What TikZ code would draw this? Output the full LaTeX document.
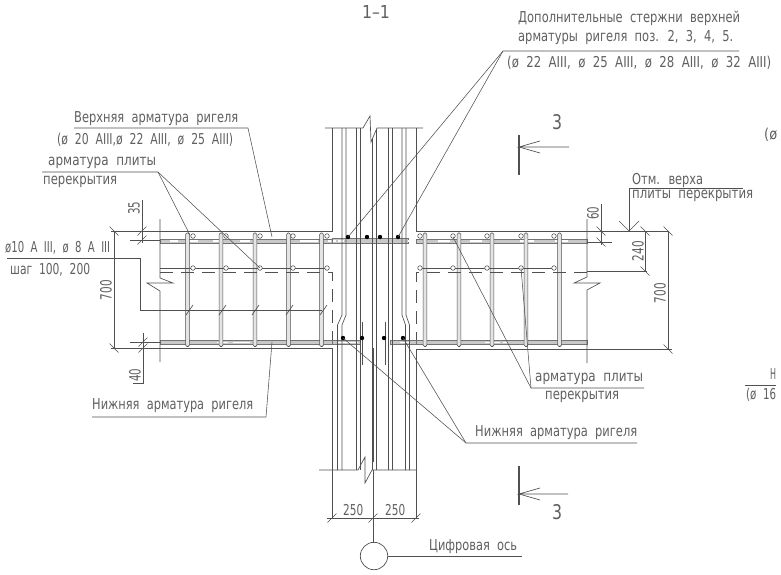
\documentclass[tikz,border=0pt]{standalone}
\usepackage{fontspec}
\usepackage{graphicx}
\setmainfont{DejaVu Sans}[WordSpace=2]
\definecolor{ink}{HTML}{505050}
\definecolor{txt}{HTML}{606060}
\definecolor{bar}{HTML}{C8C8C8}
\newcommand{\fitlabel}[5]{% name, x0, x1, y, text
  \pgfmathsetmacro{\wdpt}{#3-#2}
  \node[lbl] (#1) at (#2,#4) {\resizebox{\wdpt pt}{\height}{#5}};}
\newcommand{\vlabel}[5]{\node[lbl,anchor=center,rotate=90] (#1) at (#2,#3) {\resizebox{#5 pt}{11.5pt}{#4}};}
\newcommand{\tickbs}[2]{\draw[line] (#1-4.5,#2-4.5) -- (#1+4.5,#2+4.5);}
\newcommand{\tickfs}[2]{\draw[line] (#1-4.5,#2+4.5) -- (#1+4.5,#2-4.5);}
\tikzset{
  x=1pt,y=-1pt,
  line/.style={draw=ink,line width=0.65pt},
  thick line/.style={draw=ink,line width=1.3pt},
  leader/.style={draw=ink,line width=0.55pt},
  lbl/.style={anchor=west,inner sep=0pt,text=txt,font=\fontsize{15}{16}\selectfont},
  stirrup/.style={draw=ink,fill=bar!50,line width=0.55pt,rounded corners=1.2pt},
  ring/.style={draw=ink,fill=white,line width=0.55pt},
  dot/.style={fill=black},
  rebar/.style={draw=ink!80,fill=bar,line width=0.4pt},
}
\begin{document}
\begin{tikzpicture}
\useasboundingbox (0,0) rectangle (781,574);
\fill[white] (0,0) rectangle (781,574);

% reinforcement strips of the beam
\foreach \xa/\xb in {160/332,416/587}{
  \path[rebar] (\xa,239) rectangle (\xb,243);
  \path[rebar] (\xa,340) rectangle (\xb,344.5);
}
\path[rebar] (332,238.5) rectangle (408,243);
\path[rebar] (332,340) rectangle (360,344.5);
\path[rebar] (390,340) rectangle (416,344.5);
\foreach \xa/\xb in {170/178,186/198,213/222,240/250,300/318,328/331,333/336,338/344,408/416,438/450,470/482,520/534,555/568}{
  \draw[white,line width=1.2pt] (\xa,241) -- (\xb,241);}
\foreach \xa/\xb in {217/228,233/250,338/358,400/410,485/500,503/508}{
  \draw[white,line width=1.2pt] (\xa,342.2) -- (\xb,342.2);}

% stirrups
\foreach \x in {187.5,221,255,288.5,321.5,425,459,492,526,559.5}{
  \draw[stirrup] (\x-1.8,233) rectangle (\x+1.8,346.5);
}

% beam outline and slab lines
\draw[line] (111,231) -- (332,231) -- (332,128);
\draw[line] (325,128) -- (363,128) -- (370,116) -- (371,142) -- (377,128) -- (423,128);
\draw[line] (416,128) -- (416,231) -- (668,231);
\draw[line] (111,348) -- (332,348) -- (332,470);
\draw[line] (416,470) -- (416,349) -- (672,349);
\draw[line] (319,470) -- (358,470) -- (365,457) -- (365,483) -- (372,470) -- (417,470);
\draw[line] (160,219) -- (160,278) -- (173,283) -- (147,283) -- (160,291) -- (160,362);
\draw[line] (587,219) -- (587,277) -- (574,283) -- (600,283) -- (587,290) -- (587,363);

% mid-height bars
\draw[line] (160,268) -- (329,268);
\draw[line] (418,268) -- (556,268);
\draw[line,dash pattern=on 13pt off 8pt] (160,272) -- (332,272) -- (332,340);
\draw[line,dash pattern=on 13pt off 8pt] (587,272) -- (416,272) -- (416,340);

% column bars
\draw[line] (342,128) -- (342,315) -- (337.5,325) -- (337.5,470);
\draw[line] (346,128) -- (346,315) -- (342,325) -- (342,470);
\draw[line] (402,128) -- (402,315) -- (405.5,325) -- (405.5,470);
\draw[line] (406,128) -- (406,315) -- (409.5,325) -- (409.5,470);
\foreach \x in {356,360,388,392}{\draw[line] (\x,128) -- (\x,470);}
\draw[line] (372,138) -- (372,470);
\draw[line] (376,129) -- (376,470);
\draw[line] (362,322) -- (362,365);
\draw[line] (385,322) -- (385,365);
\draw[line] (373.5,348) -- (373.5,462);

% rings
\foreach \x in {193,226,260,293,327,420,453,487,521,554}{
  \draw[ring] (\x,236) circle (2.3);
  \draw[ring] (\x,268) circle (2.3);
}
% solid bars
\foreach \x in {348,367,380,398}{\fill[dot] (\x,237) circle (2.2);}
\foreach \x in {343,362,384,403}{\fill[dot] (\x,338) circle (2.2);}

% stirrup pitch leader
\draw[line] (7,258) -- (140,258) -- (140,310) -- (322,310);
\foreach \x in {188,221,254,288,322}{\draw[line] (\x-2,315) -- (\x+5,305);}

% left dimensions
\draw[line] (114,231) -- (114,348);
\tickbs{114}{231}\tickbs{114}{348}
\draw[line] (142,200) -- (142,243);
\draw[line] (130,240) -- (160,240);
\tickfs{142}{231}\tickfs{142}{240}
\draw[line] (143,333) -- (143,383) -- (133,383);
\draw[line] (130,342) -- (160,342);
\tickfs{143}{342}\tickfs{143}{348}
\vlabel{d700l}{106}{290}{700}{20}
\vlabel{d35}{134}{208}{35}{13}
\vlabel{d40}{135}{375}{40}{13}

% right dimensions
\draw[line] (601,204) -- (601,245);
\draw[line] (587,242) -- (612,242);
\tickbs{601}{231}\tickbs{601}{242}
\draw[line] (587,271) -- (647,271);
\draw[line] (645,231) -- (645,271);
\tickbs{645}{231}\tickbs{645}{271}
\draw[line] (668,231) -- (668,349);
\tickbs{668}{231}\tickbs{668}{349}
\vlabel{d60}{593}{213}{60}{13}
\vlabel{d240}{638}{251}{240}{20}
\vlabel{d700r}{660}{293}{700}{20}

% level mark
\coordinate (lvl) at (629,231);
\draw[line] (743,188) -- (629,188) -- (lvl);
\draw[line] (619,221) -- (lvl) -- (639,221);

% bottom dimensions and axis
\draw[line] (327,518) -- (419,518);
\draw[line] (332,470) -- (332,518);
\draw[line] (416,470) -- (416,518);
\draw[line] (373,470) -- (373,543);
\tickfs{332}{518}\tickfs{373}{518}\tickfs{416}{518}
\node[draw=ink,line width=0.7pt,circle,minimum size=27.4pt,inner sep=0pt] (axis) at (374,556) {};
\coordinate (axisend) at (522,556);
\draw[line] (axis.east) -- (axisend);

% section marks
\draw[thick line] (519,135) -- (519,175);
\draw[line] (569,147) -- (519,147) -- (540,141);
\draw[line] (519,147) -- (540,153);
\draw[thick line] (519,466) -- (519,505);
\draw[line] (568,494) -- (519,494) -- (540,488);
\draw[line] (519,494) -- (540,500);

% leaders
\coordinate (addA) at (503,51);
\draw[leader] (739,51) -- (addA) -- (348,237);
\draw[leader] (addA) -- (398,237);
\coordinate (topR) at (248,128);
\draw[leader] (74,128) -- (topR) -- (272,237);
\coordinate (slabL) at (158,172);
\draw[leader] (42,172) -- (slabL) -- (190,235);
\draw[leader] (slabL) -- (260,268);
\coordinate (slabR) at (531,388);
\draw[leader] (644,388) -- (slabR) -- (453,237);
\draw[leader] (slabR) -- (521,268);
\coordinate (botL) at (266,417);
\draw[leader] (92,417) -- (botL) -- (272,342);
\coordinate (botR) at (466,443);
\draw[leader] (637,443) -- (botR) -- (343,338);
\draw[leader] (botR) -- (403,338);

% texts
\node[lbl,anchor=center] (title) at (376,12) {\resizebox{28pt}{13pt}{1--1}};
\node[lbl,anchor=center] (sec3a) at (557,122) {\resizebox{10pt}{15pt}{3}};
\node[lbl,anchor=center] (sec3b) at (557,512) {\resizebox{10pt}{15pt}{3}};
\fitlabel{t1}{518}{740}{18}{Дополнительные стержни верхней}
\fitlabel{t2}{518}{733}{37}{арматуры ригеля поз. 2, 3, 4, 5.}
\fitlabel{t3}{507}{771}{63}{(ø 22 AIII, ø 25 AIII, ø 28 AIII, ø 32 AIII)}
\fitlabel{t4}{74}{238}{119}{Верхняя арматура ригеля}
\fitlabel{t5}{57}{233}{140}{(ø 20 AIII,ø 22 AIII, ø 25 AIII)}
\fitlabel{t6}{48}{156}{163}{арматура плиты}
\fitlabel{t7}{43}{117}{182}{перекрытия}
\fitlabel{t8}{5}{110}{248}{ø10 A III, ø 8 A III}
\fitlabel{t9}{10}{90}{270}{шаг 100, 200}
\fitlabel{t10}{92}{253}{406}{Нижняя арматура ригеля}
\fitlabel{t11}{475}{637}{433}{Нижняя арматура ригеля}
\fitlabel{t12}{535}{643}{379}{арматура плиты}
\fitlabel{t13}{545}{619}{397}{перекрытия}
\fitlabel{t14}{632}{703}{180}{Отм. верха}
\fitlabel{t15}{632}{753}{196}{плиты перекрытия}
\fitlabel{t16}{429}{517}{547}{Цифровая ось}
\fitlabel{d250a}{343}{363}{510}{250}
\fitlabel{d250b}{385}{405}{510}{250}

% fragments at the right edge
\draw[line] (745,385) -- (776,385);
\fitlabel{f1}{764}{777}{135}{(ø}
\fitlabel{f2}{770}{776}{374}{Н}
\fitlabel{f3}{746}{776}{395}{(ø 16}
\end{tikzpicture}
\end{document}
